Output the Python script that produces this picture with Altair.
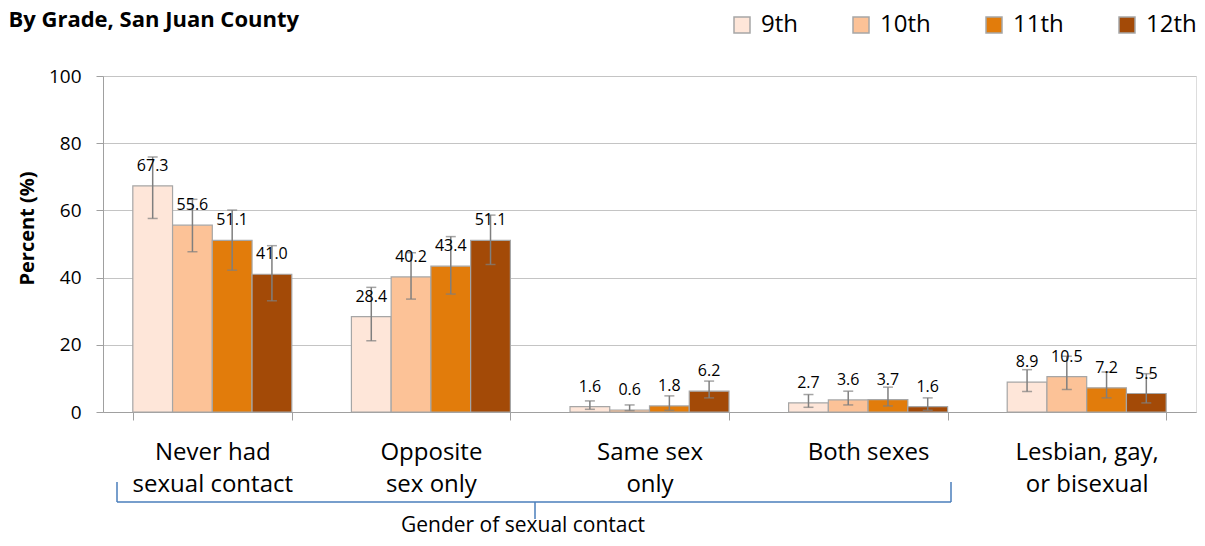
import altair as alt
import pandas as pd

categories = ["Never had|sexual contact", "Opposite|sex only", "Same sex|only",
              "Both sexes", "Lesbian, gay,|or bisexual"]
grades = ["9th", "10th", "11th", "12th"]
colors = ["#FEE6D9", "#FCC297", "#E27C0B", "#A34A07"]

values = {
    "9th":  [67.3, 28.4, 1.6, 2.7, 8.9],
    "10th": [55.6, 40.2, 0.6, 3.6, 10.5],
    "11th": [51.1, 43.4, 1.8, 3.7, 7.2],
    "12th": [41.0, 51.1, 6.2, 1.6, 5.5],
}
lower = {
    "9th":  [57.6, 21.2, 0.8, 1.4, 6.1],
    "10th": [47.7, 33.6, 0.4, 2.1, 6.7],
    "11th": [42.2, 35.1, 0.5, 1.8, 4.2],
    "12th": [33.1, 43.9, 4.2, 0.5, 2.7],
}
upper = {
    "9th":  [75.9, 37.1, 3.3, 5.2, 12.6],
    "10th": [63.3, 47.4, 2.1, 6.2, 16.6],
    "11th": [60.1, 52.2, 4.8, 7.4, 11.9],
    "12th": [49.5, 58.6, 9.2, 4.2, 11.4],
}
y_ticks = [0, 20, 40, 60, 80, 100]
title_text = "By Grade, San Juan County"
group_text = "Gender of sexual contact"

rows = []
for g in grades:
    for i, c in enumerate(categories):
        rows.append({"category": c, "grade": g, "value": values[g][i],
                     "low": lower[g][i], "high": upper[g][i]})
df = pd.DataFrame(rows)

FONT = "Open Sans"
GRAY = "#7f7f7f"
AX = "#a0a0a0"

x = alt.X("category:N", sort=categories, title=None,
          scale=alt.Scale(paddingInner=0.2727, paddingOuter=0.1364),
          axis=alt.Axis(labelExpr="split(datum.label, '|')", labelAngle=0,
                        labelFontSize=24, labelFont=FONT, labelColor="black",
                        labelLineHeight=32, labelPadding=20, tickBand="extent",
                        tickSize=8, tickColor=AX, domainColor=AX,
                        grid=False, labelBaseline="top"))
xo = alt.XOffset("grade:N", sort=grades, scale=alt.Scale(paddingInner=0, paddingOuter=0))
y = alt.Y("value:Q", scale=alt.Scale(domain=[0, 100], nice=False),
          axis=alt.Axis(values=y_ticks, grid=True, gridColor="#c4c4c4",
                        domainColor=AX, tickColor=AX, tickSize=7,
                        labelFontSize=19, labelFont=FONT, labelColor="black",
                        labelPadding=15, title="Percent (%)", titleFont=FONT,
                        titleFontSize=20, titleFontWeight="bold", titleColor="black",
                        titleX=-76, titleY=152, titleAlign="center",
                        titleBaseline="middle", titleAngle=-90))

base = alt.Chart(df)

bars = base.mark_bar(stroke="#a6a6a6", strokeWidth=1.2).encode(
    x=x, xOffset=xo, y=y,
    color=alt.Color("grade:N", sort=grades,
                    scale=alt.Scale(domain=grades, range=colors),
                    legend=alt.Legend(orient="none", legendX=627, legendY=-63,
                                      direction="horizontal", title=None,
                                      symbolType="square", symbolSize=256,
                                      symbolStrokeColor="#a6a6a6",
                                      symbolStrokeWidth=1.5, symbolOpacity=1,
                                      labelFontSize=24, labelFont=FONT,
                                      labelColor="black", labelOffset=7,
                                      columnPadding=51)),
)

err = base.mark_rule(color=GRAY, strokeWidth=1.5).encode(
    x=x, xOffset=xo, y="low:Q", y2="high:Q")
cap_lo = base.mark_tick(orient="horizontal", size=10, thickness=1.5, color=GRAY).encode(
    x=x, xOffset=xo, y="low:Q")
cap_hi = base.mark_tick(orient="horizontal", size=10, thickness=1.5, color=GRAY).encode(
    x=x, xOffset=xo, y="high:Q")

labels = base.mark_text(fontSize=16, font=FONT, color="black", dy=-15,
                        baseline="alphabetic").encode(
    x=x, xOffset=xo, y=y, text=alt.Text("value:Q", format=".1f"))

one = pd.DataFrame({"t": [title_text]})
title = alt.Chart(one).mark_text(font=FONT, fontSize=22, fontWeight="bold",
                                 align="right", baseline="alphabetic",
                                 color="black").encode(
    x=alt.value(196), y=alt.value(-49), text="t:N")

gtxt = alt.Chart(pd.DataFrame({"t": [group_text]})).mark_text(
    font=FONT, fontSize=21, color="black", align="center",
    baseline="middle").encode(x=alt.value(420), y=alt.value(450), text="t:N")

BRACE = "#4A7EBB"
br = alt.Chart(one)
b1 = br.mark_rule(color=BRACE, strokeWidth=1.5).encode(
    x=alt.value(14), y=alt.value(406), y2=alt.value(426))
b2 = br.mark_rule(color=BRACE, strokeWidth=1.5).encode(
    x=alt.value(848), y=alt.value(406), y2=alt.value(426))
b3 = br.mark_rule(color=BRACE, strokeWidth=1.5).encode(
    x=alt.value(14), x2=alt.value(848), y=alt.value(426))
b4 = br.mark_rule(color=BRACE, strokeWidth=1.5).encode(
    x=alt.value(432), y=alt.value(426), y2=alt.value(443))

chart = alt.layer(bars, err, cap_lo, cap_hi, labels, title, gtxt, b1, b2, b3, b4).properties(
    width=1093, height=336,
    padding={"left": 95, "top": 68, "right": 1, "bottom": 126},
    autosize=alt.AutoSizeParams(type="none"),
).configure_view(stroke=None).configure(background="white")

chart.save("out.html", embed_options={"renderer": "svg", "actions": False})
